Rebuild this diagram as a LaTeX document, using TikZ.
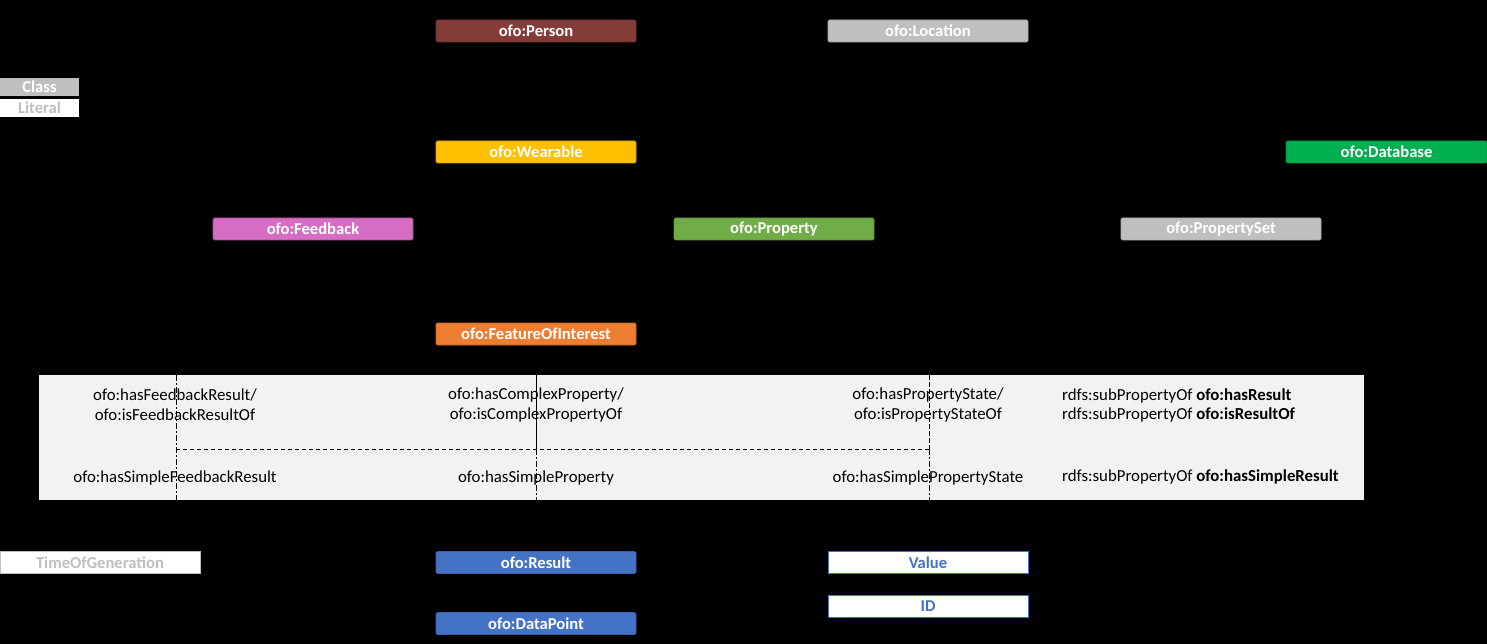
\documentclass[tikz,border=0pt]{standalone}
\usepackage{fontspec}
\setmainfont{Carlito}
\definecolor{cPerson}{RGB}{132,60,57}
\definecolor{cGray}{RGB}{191,191,191}
\definecolor{cWear}{RGB}{255,192,0}
\definecolor{cDb}{RGB}{0,176,80}
\definecolor{cFeed}{RGB}{214,108,196}
\definecolor{cProp}{RGB}{112,173,71}
\definecolor{cFoi}{RGB}{237,125,49}
\definecolor{cBlue}{RGB}{68,114,196}
\definecolor{cPanel}{RGB}{242,242,242}
\tikzset{
  cls/.style={rectangle, rounded corners=1.5pt, minimum width=200pt, minimum height=22pt,
    inner sep=0pt, text=white, font=\fontsize{16.6}{20}\selectfont\bfseries, line width=0.8pt},
  legendbox/.style={rectangle, minimum width=79pt, minimum height=18pt, inner sep=0pt,
    font=\fontsize{16.6}{20}\selectfont\bfseries},
  lit/.style={rectangle, minimum width=200pt, minimum height=22pt, inner sep=0pt,
    fill=white, font=\fontsize{16.6}{20}\selectfont\bfseries, line width=0.8pt},
  lbl/.style={font=\fontsize{16.8}{20}\selectfont, inner sep=0pt, text=black, align=center},
  sub/.style={font=\fontsize{16.8}{20}\selectfont, inner sep=0pt, text=black, anchor=west},
}
\begin{document}
\begin{tikzpicture}[x=1pt,y=-1pt]
\useasboundingbox (0,0) rectangle (1487,644);
\fill[black] (0,0) rectangle (1487,644);
% panel
\fill[cPanel] (39,375) rectangle (1364,500);
\coordinate (pTopA) at (176,375);
\coordinate (pMidA) at (176,449);
\coordinate (pBotA) at (176,500);
\coordinate (pTopB) at (536,375);
\coordinate (pMidB) at (536,449);
\coordinate (pBotB) at (536,500);
\coordinate (pTopC) at (929,375);
\coordinate (pMidC) at (929,449);
\coordinate (pBotC) at (929,500);
\draw[black, line width=0.8pt, dash pattern=on 6pt off 2pt on 2pt off 2pt] (pTopA) -- (pBotA);
\draw[black, line width=0.9pt] (pTopB) -- (pMidB);
\draw[black, line width=0.9pt, dash pattern=on 6pt off 2pt on 2pt off 2pt] (pMidB) -- (pBotB);
\draw[black, line width=0.8pt, dash pattern=on 5pt off 2pt] (pTopC) -- (pMidC);
\draw[black, line width=0.8pt, dash pattern=on 6pt off 2pt on 2pt off 2pt] (pMidC) -- (pBotC);
\draw[black, line width=0.8pt, dash pattern=on 4pt off 3pt] (pMidA) -- (pMidC);
% panel labels
\node[lbl] (l1) at (175,405) {ofo:hasFeedbackResult/\\ofo:isFeedbackResultOf};
\node[lbl] (l2) at (536,405) {ofo:hasComplexProperty/\\ofo:isComplexPropertyOf};
\node[lbl] (l3) at (928,405) {ofo:hasPropertyState/\\ofo:isPropertyStateOf};
\node[sub] (r1) at (1062,396) {rdfs:subPropertyOf \textbf{ofo:hasResult}};
\node[sub] (r2) at (1062,415) {rdfs:subPropertyOf \textbf{ofo:isResultOf}};
\node[lbl] (s1) at (175,478) {ofo:hasSimpleFeedbackResult};
\node[lbl] (s2) at (536,478) {ofo:hasSimpleProperty};
\node[lbl] (s3) at (928,478) {ofo:hasSimplePropertyState};
\node[sub] (r3) at (1062,477) {rdfs:subPropertyOf \textbf{ofo:hasSimpleResult}};
% classes
\node[cls, fill=cPerson, draw=cPerson!85!black] (person) at (536,31) {ofo:Person};
\node[cls, fill=cGray, draw=cGray!90!black] (location) at (928,31) {ofo:Location};
\node[legendbox, fill=cGray, text=white] (class) at (39.5,87) {Class};
\node[legendbox, fill=white, text=cGray] (literal) at (39.5,108) {Literal};
\node[cls, fill=cWear, draw=cWear!85!black] (wearable) at (536,152) {ofo:Wearable};
\node[cls, fill=cDb, draw=cDb!85!black, minimum width=201pt] (database) at (1386.5,152) {ofo:Database};
\node[cls, fill=cFeed, draw=cFeed!75!black] (feedback) at (313,229) {ofo:Feedback};
\node[cls, fill=cProp, draw=cProp!85!black] (property) at (774,229) {ofo:Property};
\node[cls, fill=cGray, draw=cGray!90!black] (propset) at (1221,229) {ofo:PropertySet};
\node[cls, fill=cFoi, draw=cFoi!85!black] (foi) at (536,334) {ofo:FeatureOfInterest};
\node[lit, text=cGray, draw=cGray] (time) at (100,562.5) {TimeOfGeneration};
\node[cls, fill=cBlue, draw=cBlue!85!black] (result) at (536,562.5) {ofo:Result};
\node[lit, text=cBlue, draw=cBlue, line width=0.9pt] (value) at (928,562.5) {Value};
\node[cls, fill=cBlue, draw=cBlue!85!black] (datapoint) at (536,623.5) {ofo:DataPoint};
\node[lit, text=cBlue, draw=cBlue, line width=0.9pt] (id) at (928,606) {ID};
\end{tikzpicture}
\end{document}
